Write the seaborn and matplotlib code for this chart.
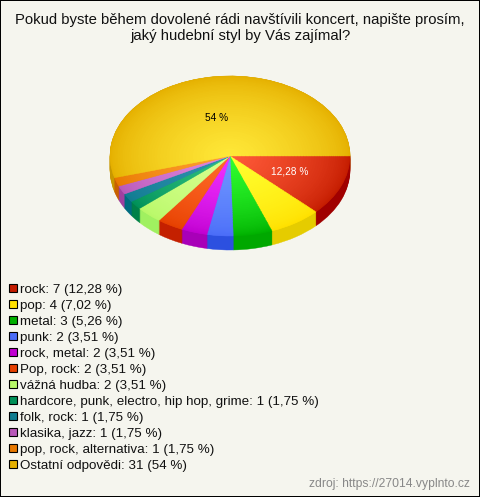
import numpy as np
import seaborn as sns
import matplotlib.pyplot as plt
from matplotlib.patches import Patch

title = 'Pokud byste během dovolené rádi navštívili koncert, napište prosím,\njaký hudební styl by Vás zajímal?'
source = 'zdroj: https://27014.vyplnto.cz'
answers = ['rock', 'pop', 'metal', 'punk', 'rock, metal', 'Pop, rock', 'vážná hudba',
           'hardcore, punk, electro, hip hop, grime', 'folk, rock', 'klasika, jazz',
           'pop, rock, alternativa', 'Ostatní odpovědi']
counts = [7, 4, 3, 2, 2, 2, 2, 1, 1, 1, 1, 31]
percents = ['12,28', '7,02', '5,26', '3,51', '3,51', '3,51', '3,51', '1,75', '1,75', '1,75', '1,75', '54']

# colour at the rim, colour at the centre, colour of the side wall
rim_colors = ['#c41c00', '#ffe000', '#00b000', '#4a6cf8', '#c000d0', '#e64000',
              '#b8f868', '#009058', '#107c90', '#b858b8', '#e87800', '#e5b000']
mid_colors = ['#ff5a38', '#ffff30', '#30ff30', '#6e96ff', '#f030ff', '#ff6a28',
              '#d8ff90', '#30c080', '#3090b0', '#e088e0', '#ffa030', '#ffe838']
side_colors = ['#a00000', '#e5cc00', '#00a800', '#2c50e0', '#a800b8', '#c42000',
               '#a0f060', '#008048', '#006c80', '#a040a0', '#c86000', '#c89800']

sns.set_theme(style='white', rc={'font.family': ['Liberation Sans', 'DejaVu Sans']})

fig = plt.figure(figsize=(4.8, 4.97), dpi=100)
fig.patch.set_facecolor('#f5f5ee')
fig.patch.set_edgecolor('black')
fig.patch.set_linewidth(1.44)

W, H = 480, 497
# one data unit is 120 px across and 80 px down, so the pie reads as tilted
ax = fig.add_axes([110 / W, (H - 256) / H, 240 / W, 180 / H])


def draw_layer(colors, radius=1, center=(0, 0)):
    wedges, _ = ax.pie(counts, colors=colors, radius=radius, center=center,
                       startangle=0, counterclock=False)
    for w in wedges:
        w.set_edgecolor(w.get_facecolor())
        w.set_linewidth(0.3)


# side wall
for off in np.linspace(0.175, 0.0, 15):
    draw_layer(side_colors, center=(0, -off))

# top with a radial gradient, it brightens quickly just inside the rim
n_steps = 45
ramps = [sns.blend_palette([a, b], n_steps) for a, b in zip(rim_colors, mid_colors)]
for i, r in enumerate(1 - np.linspace(0, 0.98, n_steps) ** 1.5):
    draw_layer([ramp[i] for ramp in ramps], radius=r)

ax.set_aspect('auto')
ax.set_xlim(-1, 1)
ax.set_ylim(-1.25, 1)

ax.text(0.5, -0.2, percents[0] + ' %', color='white', fontsize=7.3, ha='center', va='center')
ax.text(-0.11, 0.48, percents[-1] + ' %', color='black', fontsize=7.3, ha='center', va='center')

fig.text(240 / W, 1 - 28 / H, title, ha='center', va='center', fontsize=10.7,
         color='#111111', linespacing=1.12)

handles = [Patch(facecolor=c, edgecolor='black', linewidth=0.8) for c in rim_colors]
labels = [f'{a}: {c} ({p} %)' for a, c, p in zip(answers, counts, percents)]
fig.legend(handles, labels, loc='upper left', bbox_to_anchor=(9 / W, 1 - 283.5 / H),
           bbox_transform=fig.transFigure, frameon=False, fontsize=9.67,
           handlelength=0.6, handleheight=0.6, handletextpad=0.23,
           labelspacing=0.3, borderpad=0, borderaxespad=0, labelcolor='#111111')

fig.text(470 / W, 1 - 484 / H, source, ha='right', va='center', fontsize=8.7, color='#888888')

plt.savefig('out.png', dpi=100)
